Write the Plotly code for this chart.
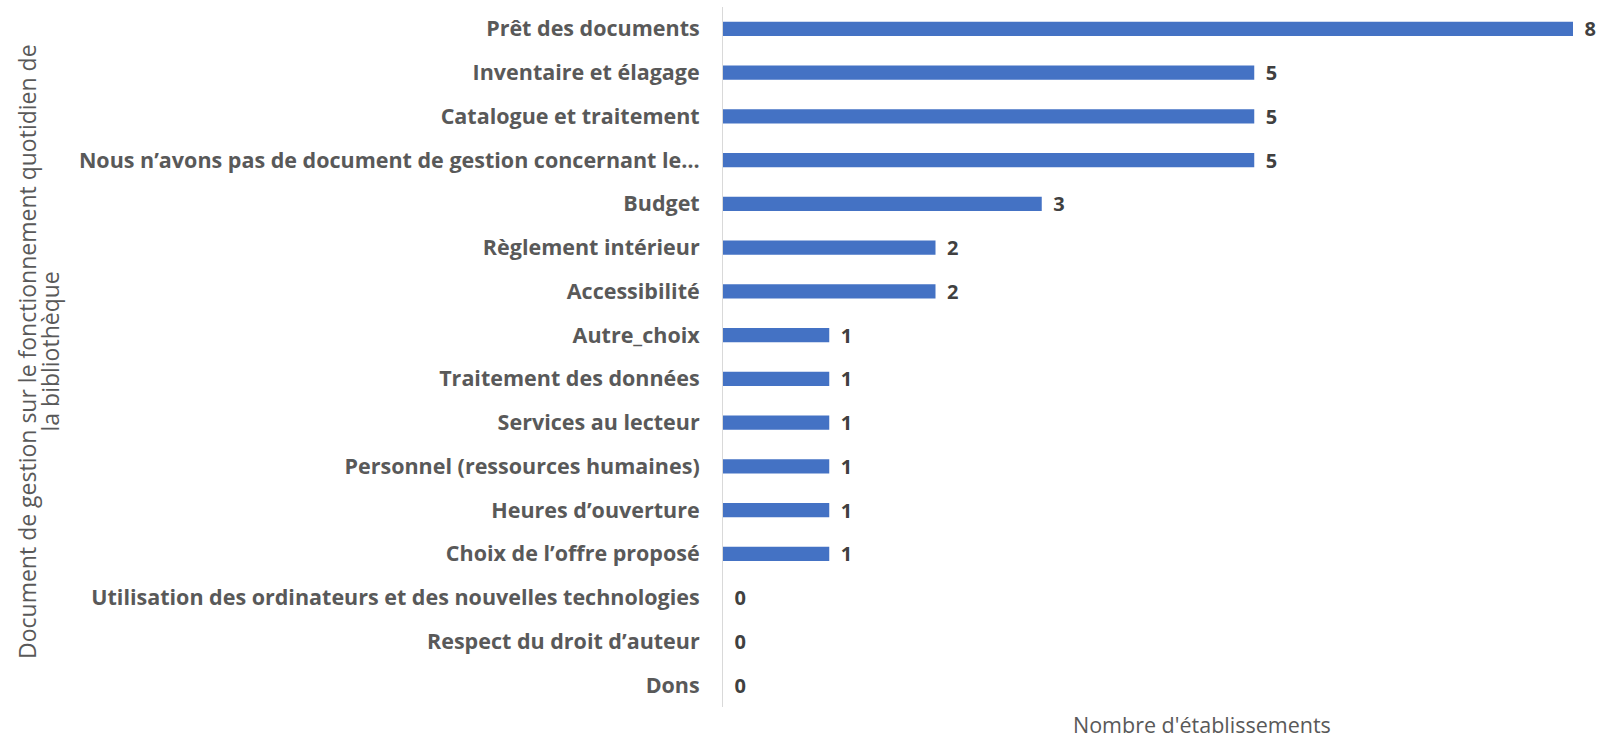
"""Bar chart: documents de gestion des bibliothèques."""

import plotly.graph_objects as go

categories = [
    "Prêt des documents",
    "Inventaire et élagage",
    "Catalogue et traitement",
    "Nous n’avons pas de document de gestion concernant le…",
    "Budget",
    "Règlement intérieur",
    "Accessibilité",
    "Autre_choix",
    "Traitement des données",
    "Services au lecteur",
    "Personnel (ressources humaines)",
    "Heures d’ouverture",
    "Choix de l’offre proposé",
    "Utilisation des ordinateurs et des nouvelles technologies",
    "Respect du droit d’auteur",
    "Dons",
]
counts = [8, 5, 5, 5, 3, 2, 2, 1, 1, 1, 1, 1, 1, 0, 0, 0]

x_title = "Nombre d'établissements"
y_title_lines = [
    "Document de gestion sur le fonctionnement quotidien de",
    "la bibliothèque",
]

W, H = 1602, 738
L, R, T, B = 723, 0, 7, 31
plot_w = W - L - R
plot_h = H - T - B
unit = 106.25  # px per établissement

GREY = "#595959"
FONT = "Open Sans"

fig = go.Figure()
fig.add_trace(
    go.Bar(
        x=counts,
        y=categories,
        orientation="h",
        marker=dict(color="#4472C4", line=dict(width=0)),
        width=0.33,
        texttemplate="\u00a0\u2009%{x}",
        textposition="outside",
        constraintext="none",
        textfont=dict(family=FONT, size=20, color="#404040", weight="bold"),
        cliponaxis=False,
        hoverinfo="skip",
    )
)

# x axis title (below the plot, Excel style)
fig.add_annotation(
    text=x_title,
    xref="paper", yref="paper",
    x=(1202 - L) / plot_w, y=(T + plot_h - 724) / plot_h,
    xanchor="center", yanchor="middle",
    showarrow=False,
    font=dict(family=FONT, size=21.5, color=GREY),
)

# y axis title, two rotated lines
for i, line in enumerate(y_title_lines):
    fig.add_annotation(
        text=line,
        xref="paper", yref="paper",
        x=(27 + 22.5 * i - L) / plot_w, y=(T + plot_h - 352) / plot_h,
        xanchor="center", yanchor="middle",
        textangle=-90,
        showarrow=False,
        font=dict(family=FONT, size=23, color=GREY),
    )

fig.update_layout(
    width=W,
    height=H,
    margin=dict(l=L, r=R, t=T, b=B),
    plot_bgcolor="white",
    paper_bgcolor="white",
    showlegend=False,
    xaxis=dict(
        range=[0, plot_w / unit],
        visible=False,
        showgrid=False,
        zeroline=False,
    ),
    yaxis=dict(
        range=[len(categories) - 0.5, -0.5],
        showline=True,
        linecolor="#d9d9d9",
        linewidth=1,
        ticks="",
        ticklabelstandoff=18,
        tickfont=dict(family=FONT, size=21.5, color=GREY, weight="bold"),
        showgrid=False,
    ),
)

fig.write_html(
    "out.html",
    config={"displayModeBar": False},
    post_script="document.body.style.margin='0';",
)
